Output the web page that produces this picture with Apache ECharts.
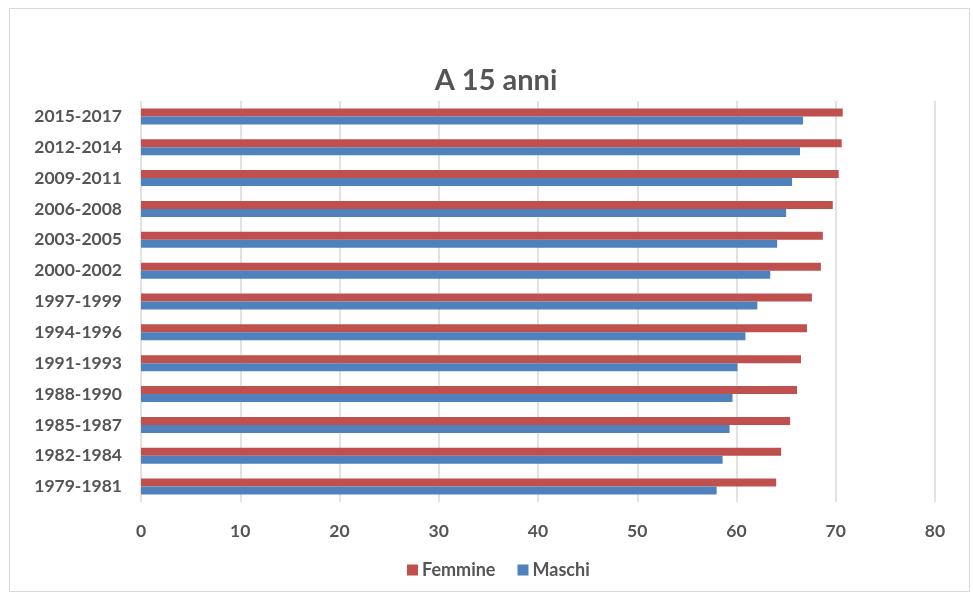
<!DOCTYPE html>
<html>
<head>
<meta charset="utf-8">
<script src="https://cdn.jsdelivr.net/npm/echarts@6/dist/echarts.min.js"></script>
<style>
  html, body { margin: 0; padding: 0; background: #fff; }
  #chart { width: 973px; height: 594px; }
</style>
</head>
<body>
<div id="chart"></div>
<script>
// Periods, listed bottom-to-top along the category axis
const periods = ['1979-1981', '1982-1984', '1985-1987', '1988-1990', '1991-1993', '1994-1996',
  '1997-1999', '2000-2002', '2003-2005', '2006-2008', '2009-2011', '2012-2014', '2015-2017'];
// Speranza di vita a 15 anni
const femmine = [64.0, 64.5, 65.4, 66.1, 66.5, 67.1, 67.6, 68.5, 68.7, 69.7, 70.3, 70.6, 70.7];
const maschi  = [58.0, 58.6, 59.3, 59.6, 60.1, 60.9, 62.1, 63.4, 64.1, 65.0, 65.6, 66.4, 66.7];
const xTicks = { min: 0, max: 80, interval: 10 };

const font = 'Lato, "Open Sans", sans-serif';
const textGray = '#555555';

const chart = echarts.init(document.getElementById('chart'));
chart.setOption({
  animation: false,
  title: {
    text: 'A 15 anni',
    left: 491, top: 61, textAlign: 'center',
    textStyle: { fontFamily: font, fontSize: 29, fontWeight: 'bold', color: textGray }
  },
  legend: {
    data: ['Femmine', 'Maschi'],
    left: 402, top: 556,
    itemWidth: 11, itemHeight: 11, itemGap: 22,
    icon: 'rect',
    textStyle: { fontFamily: font, fontSize: 18, fontWeight: 'bold', color: textGray, padding: [0, 0, 0, -1] }
  },
  grid: { left: 141, right: 38, top: 101, bottom: 92, containLabel: false },
  xAxis: {
    type: 'value', min: xTicks.min, max: xTicks.max, interval: xTicks.interval,
    axisLine: { show: false }, axisTick: { show: false },
    splitLine: { lineStyle: { color: '#d9d9d9', width: 1.5 } },
    axisLabel: { margin: 20, fontFamily: font, fontSize: 17.5, fontWeight: 'bold', color: textGray }
  },
  yAxis: {
    type: 'category', data: periods,
    axisLine: { show: false }, axisTick: { show: false },
    axisLabel: { margin: 19, fontFamily: font, fontSize: 17.5, fontWeight: 'bold', color: textGray }
  },
  series: [
    { name: 'Femmine', type: 'bar', data: femmine, barWidth: 8, barGap: '0%',
      itemStyle: { color: '#C0504D' } },
    { name: 'Maschi', type: 'bar', data: maschi, barWidth: 8, barGap: '0%',
      itemStyle: { color: '#4F81BD' } }
  ],
  graphic: [{
    type: 'rect', silent: true, z: -1,
    shape: { x: 9.5, y: 8.5, width: 960, height: 583 },
    style: { fill: 'none', stroke: '#d9d9d9', lineWidth: 1 }
  }]
});
</script>
</body>
</html>
